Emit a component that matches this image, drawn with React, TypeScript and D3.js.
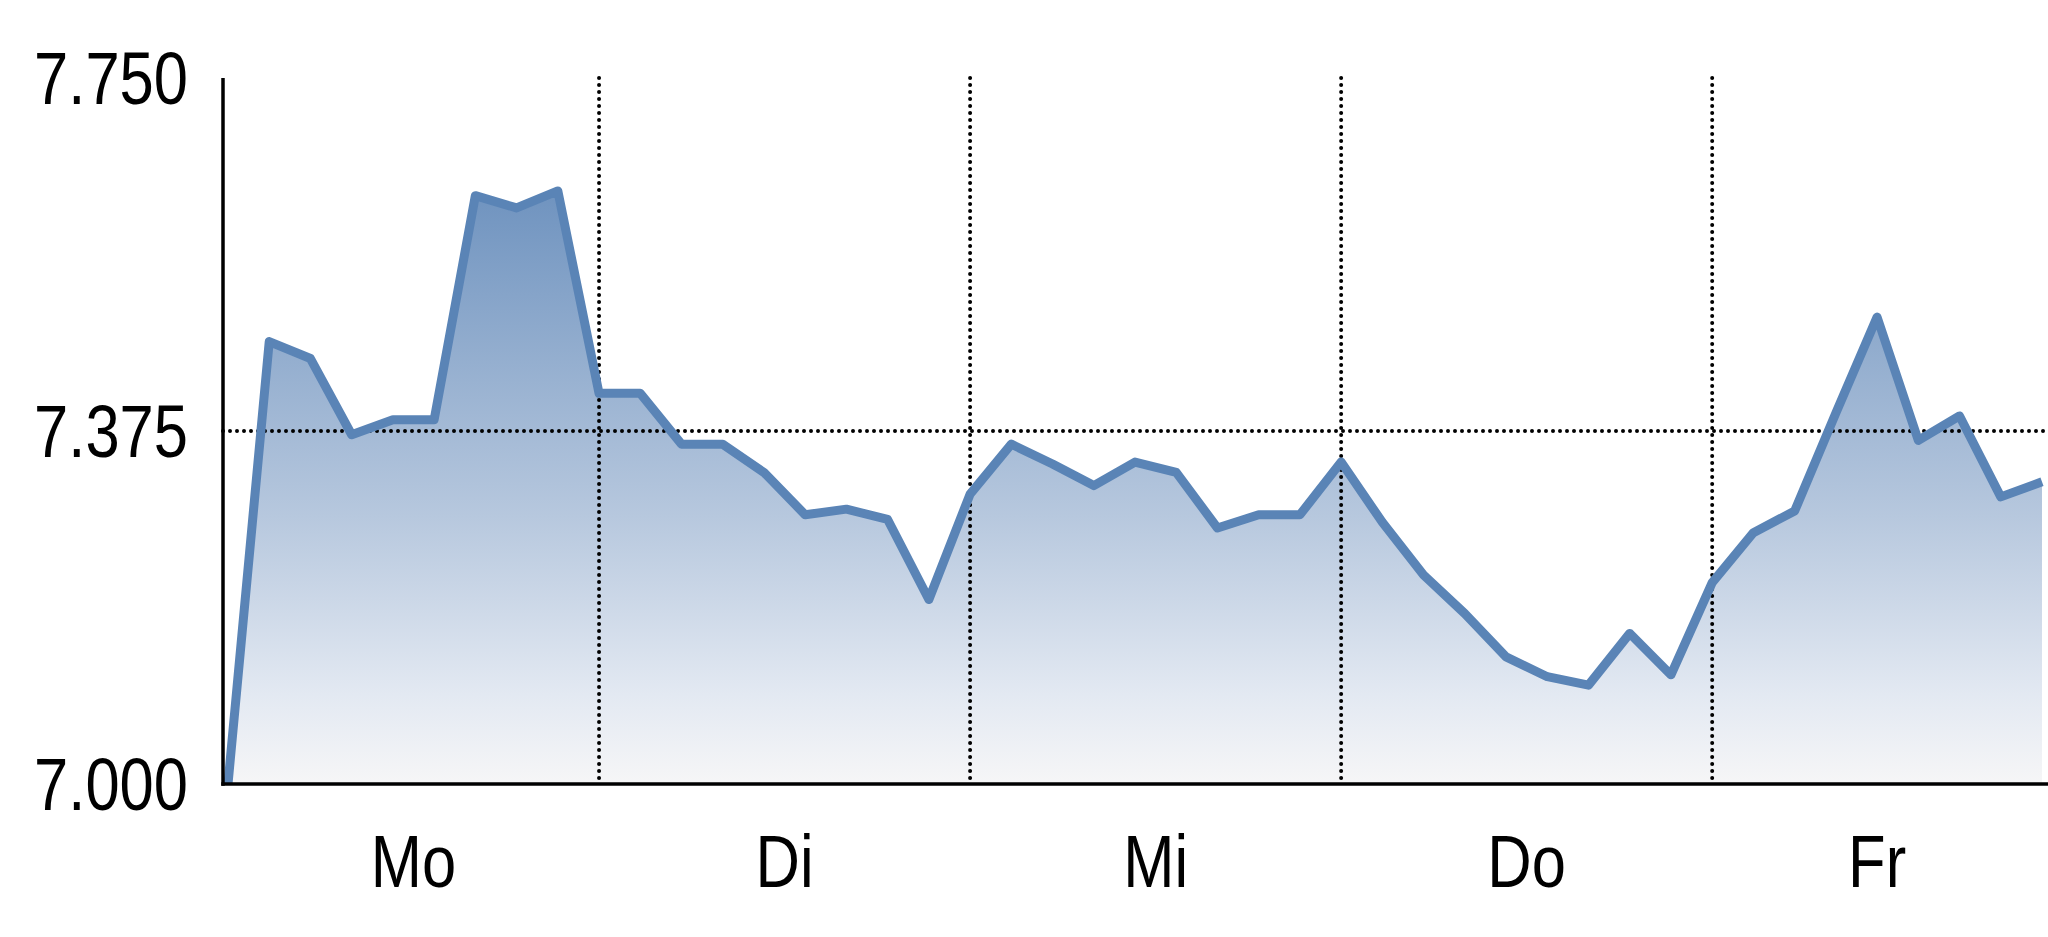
import { useMemo } from "react";
import { area, curveLinear, formatLocale, line, scaleLinear } from "d3";

// hourly index values, Mon..Fri (9 readings per day, last day cut off)
const values = [
  7000, 7470, 7452, 7371, 7387, 7387, 7625, 7612, 7630,
  7415, 7415, 7361, 7361, 7331, 7286, 7292, 7281, 7196,
  7308, 7361, 7340, 7317, 7342, 7331, 7272, 7286, 7286,
  7342, 7278, 7222, 7181, 7135, 7114, 7105, 7160, 7116,
  7214, 7267, 7290, 7394, 7496, 7365, 7391, 7305, 7321,
];
const days = ["Mo", "Di", "Mi", "Do", "Fr"];
const dayStarts = [0, 9, 18, 27, 36];
const yTicks = [7000, 7375, 7750];
const gridY = [7375];

const width = 2048;
const height = 937;
const axisX = 223;
const left = 228;
const right = 2042;
const top = 78;
const bottom = 784;

const de = formatLocale({
  decimal: ",",
  thousands: ".",
  grouping: [3],
  currency: ["", " €"],
});
const fmt = de.format(",d");

// no narrow font installed, so squeeze a regular sans horizontally
const fontFamily = "'Liberation Sans', Arial, sans-serif";
const squeeze = 0.82;

export default function App() {
  const { xScale, yScale, linePath, areaPath } = useMemo(() => {
    const xScale = scaleLinear().domain([0, values.length - 1]).range([left, right]);
    const yScale = scaleLinear().domain([7000, 7750]).range([bottom, top]);
    const linePath = line<number>()
      .x((_, i) => xScale(i))
      .y((d) => yScale(d))
      .curve(curveLinear)(values) ?? "";
    const areaPath = area<number>()
      .x((_, i) => xScale(i))
      .y0(bottom)
      .y1((d) => yScale(d))
      .curve(curveLinear)(values) ?? "";
    return { xScale, yScale, linePath, areaPath };
  }, []);

  const last = values.length - 1;

  return (
    <>
      <style>{"body{margin:0;background:#fff}"}</style>
      <svg width={width} height={height} viewBox={`0 0 ${width} ${height}`} style={{ display: "block" }}>
        <defs>
          <linearGradient id="fillGrad" x1="0" y1="0" x2="0" y2="1">
            <stop offset="0%" stopColor="#6f93bf" />
            <stop offset="55%" stopColor="#b7c8de" />
            <stop offset="85%" stopColor="#e3e9f2" />
            <stop offset="100%" stopColor="#f6f6f7" />
          </linearGradient>
        </defs>

        <path d={areaPath} fill="url(#fillGrad)" />

        {/* dotted grid */}
        {gridY.map((v) => (
          <line
            key={v}
            x1={axisX}
            x2={width}
            y1={yScale(v)}
            y2={yScale(v)}
            stroke="#000"
            strokeWidth={4}
            strokeDasharray="0 7"
            strokeLinecap="round"
          />
        ))}
        {dayStarts.slice(1).map((d) => (
          <line
            key={d}
            x1={xScale(d)}
            x2={xScale(d)}
            y1={top}
            y2={bottom}
            stroke="#000"
            strokeWidth={4}
            strokeDasharray="0 7"
            strokeLinecap="round"
          />
        ))}

        <path
          d={linePath}
          fill="none"
          stroke="#5a84b6"
          strokeWidth={9}
          strokeLinejoin="round"
        />

        {/* axes */}
        <line x1={axisX} x2={axisX} y1={top} y2={bottom + 1.75} stroke="#000" strokeWidth={3.5} />
        <line x1={axisX - 1.75} x2={width} y1={bottom} y2={bottom} stroke="#000" strokeWidth={3.5} />

        {yTicks.map((v) => (
          <text
            key={v}
            transform={`translate(188, ${yScale(v) + 26}) scale(${squeeze}, 1)`}
            textAnchor="end"
            fontFamily={fontFamily}
            fontSize={75}
            fill="#000"
          >
            {fmt(v)}
          </text>
        ))}

        {days.map((d, i) => {
          const start = dayStarts[i];
          const end = i + 1 < dayStarts.length ? dayStarts[i + 1] : last;
          return (
            <text
              key={d}
              transform={`translate(${xScale((start + end) / 2)}, 887) scale(${squeeze}, 1)`}
              textAnchor="middle"
              fontFamily={fontFamily}
              fontSize={75}
              fill="#000"
            >
              {d}
            </text>
          );
        })}
      </svg>
    </>
  );
}
